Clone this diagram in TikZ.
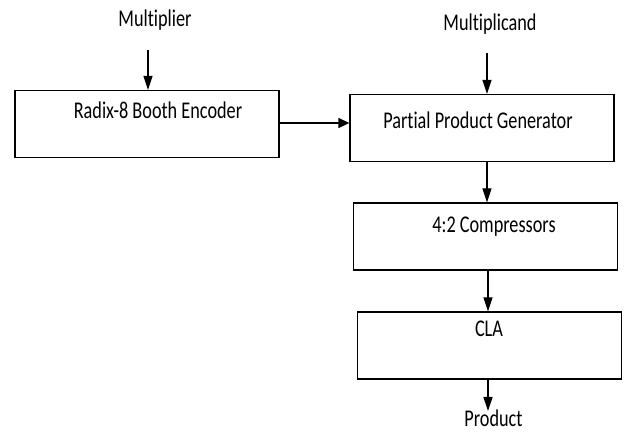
\documentclass[tikz,border=0pt]{standalone}
\usepackage{fontspec}
\setmainfont{Carlito}[FakeStretch=0.76, Ligatures=NoCommon]
\usepackage{tikz}
\usetikzlibrary{arrows.meta, positioning}

\tikzset{
    block/.style={draw, line width=1.3pt, inner sep=0pt,
        minimum width=264pt, minimum height=67pt},
    txt/.style={anchor=base, inner sep=0pt,
        font=\fontsize{24}{28}\selectfont},
    down/.style={line width=1.3pt, -{Triangle[length=14pt, width=9pt]}},
    side/.style={line width=1.3pt, -{Triangle[length=11pt, width=10pt]}}
}

\begin{document}
\begin{tikzpicture}[x=1pt, y=-1pt]

    % =================================================================
    % 1. KHUNG HINH
    % =================================================================
    \useasboundingbox (0,0) rectangle (625,433);

    % =================================================================
    % 2. CAC KHOI
    % =================================================================
    \node[block] (booth) at (147,124) {};
    \node[block] (ppg)   at (482,128) {};
    \node[block] (comp)  at (485.5,236.5) {};
    \node[block] (cla)   at (489.5,345.5) {};

    % Chu trong cac khoi
    \node[txt] (booth-t) at (158,119) {Radix-8 Booth Encoder};
    \node[txt] (ppg-t)   at (478,129) {Partial Product Generator};
    \node[txt] (comp-t)  at (494,233) {4:2 Compressors};
    \node[txt] (cla-t)   at (489,337) {CLA};

    % =================================================================
    % 3. DAU VAO VA DAU RA
    % =================================================================
    \node[txt] (mul)   at (155,27)  {Multiplier};
    \node[txt] (mcand) at (490,31)  {Multiplicand};
    \node[txt] (prod)  at (493.5,427) {Product};

    \coordinate (mul-in)   at (148,50);
    \coordinate (mcand-in) at (487,53);
    \coordinate (prod-out) at (488,411);

    % =================================================================
    % 4. MUI TEN
    % =================================================================
    \draw[down] (mul-in) -- (mul-in |- booth.north);
    \draw[down] (mcand-in) -- (mcand-in |- ppg.north);
    \draw[side] (booth.east |- 0,123) -- (ppg.west |- 0,123);
    \draw[down] (ppg.south -| mcand-in) -- (comp.north -| mcand-in);
    \draw[down] (comp.south -| prod-out) -- (cla.north -| prod-out);
    \draw[down] (cla.south -| prod-out) -- (prod-out);

\end{tikzpicture}
\end{document}
